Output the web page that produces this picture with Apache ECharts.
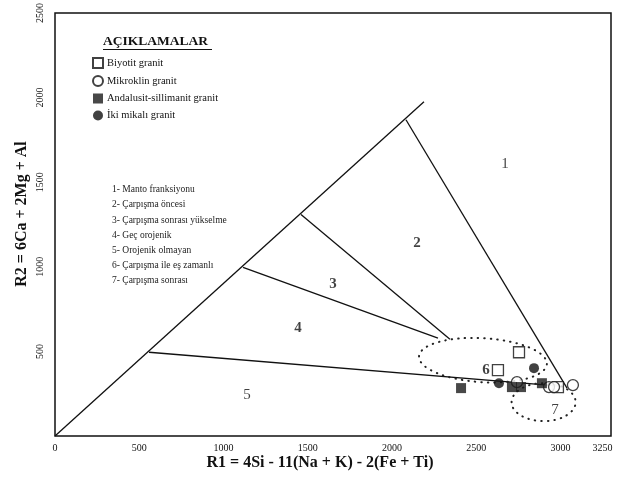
<!DOCTYPE html>
<html><head><meta charset="utf-8">
<script src="https://cdn.jsdelivr.net/npm/echarts@6/dist/echarts.min.js"></script>
<style>html,body{margin:0;padding:0;background:#fff}#c{width:633px;height:477px}</style>
</head><body><div id="c"></div>
<script>
// ---- data ----
const xTickLabels = [0, 500, 1000, 1500, 2000, 2500, 3000, 3250];
const yTickLabels = [500, 1000, 1500, 2000, 2500];
const seriesNames = ['Biyotit granit', 'Mikroklin granit', 'Andalusit-sillimanit granit', 'İki mikalı granit'];
const biyotit = [[2754, 495], [2629, 389], [2985, 289]];
const mikroklin = [[2742, 318], [2932, 289], [2962, 289], [3074, 301]];
const andalusit = [[2410, 283], [2712, 289], [2766, 289], [2890, 312]];
const ikiMikali = [[2635, 312], [2843, 401]];
const lineDiagonal = [[0, 0], [2190, 1975]];
const line12 = [[2083, 1869], [3039, 283]];
const line23 = [[1460, 1309], [2344, 572]];
const line34 = [[1116, 996], [2273, 578]];
const line45 = [[558, 495], [2997, 295]];
const fieldLabelNames = ['1', '2', '3', '4', '5', '6', '7'];
const fieldLabelX = [2671, 2148, 1650, 1442, 1140, 2558, 2968];
const fieldLabelY = [1610, 1138, 896, 637, 242, 389, 153];
const ellipse6 = [2540, 448, 380, 130];   // cx, cy, rx (R1), ry (R2)
const ellipse7 = [2900, 200, 190, 112];
const fieldNames = [
  '1- Manto franksiyonu',
  '2- Çarpışma öncesi',
  '3- Çarpışma sonrası yükselme',
  '4- Geç orojenik',
  '5- Orojenik olmayan',
  '6- Çarpışma ile eş zamanlı',
  '7- Çarpışma sonrası'
];

// ---- chart ----
const SERIF = "'Liberation Serif','Times New Roman',serif";
const boldLabels = new Set(['2', '3', '4', '6']);
const chart = echarts.init(document.getElementById('c'), null, {renderer: 'canvas'});

function lineSeries(pts) {
  return {type: 'line', data: pts, symbol: 'none', silent: true, z: 2,
    lineStyle: {color: '#111', width: 1.3}, legendHoverLink: false};
}
function ellipseSeries(e, rot) {
  return {
    type: 'custom', silent: true, z: 3,
    data: [[e[0], e[1], e[2], e[3]]],
    renderItem: function (params, api) {
      const c = api.coord([api.value(0), api.value(1)]);
      const rx = api.size([api.value(2), 0])[0];
      const ry = api.size([0, api.value(3)])[1];
      return {type: 'ellipse', x: c[0], y: c[1], rotation: rot,
        shape: {cx: 0, cy: 0, rx: rx, ry: ry},
        style: {fill: 'none', stroke: '#222', lineWidth: 2, lineDash: [0.5, 6], lineCap: 'round'}};
    }
  };
}
const labelData = fieldLabelNames.map((n, i) => ({name: n, value: [fieldLabelX[i], fieldLabelY[i]],
  label: {fontWeight: boldLabels.has(n) ? 'bold' : 'normal', fontSize: 15}}));

const option = {
  animation: false,
  backgroundColor: '#fff',
  grid: {left: 55, right: 22, top: 12, bottom: 41, show: true, borderColor: '#111', borderWidth: 1.5, backgroundColor: 'transparent'},
  xAxis: {
    type: 'value', min: 0, max: 3300, interval: 250,
    axisLine: {show: false}, axisTick: {show: false}, splitLine: {show: false},
    axisLabel: {fontFamily: SERIF, fontSize: 10, color: '#111', margin: 7, showMaxLabel: false,
      formatter: v => xTickLabels.indexOf(v) >= 0 ? String(v) : ''}
  },
  yAxis: {
    type: 'value', min: 0, max: 2500, interval: 500,
    axisLine: {show: false}, axisTick: {show: false}, splitLine: {show: false},
    axisLabel: {fontFamily: SERIF, fontSize: 10, color: '#111', rotate: 90, margin: 10,
      formatter: v => yTickLabels.indexOf(v) >= 0 ? String(v) : ''}
  },
  legend: {
    left: 87, top: 52, orient: 'vertical', itemWidth: 10, itemHeight: 10, itemGap: 6,
    textStyle: {fontFamily: SERIF, fontSize: 10.5, color: '#111', padding: [0, 0, 0, -1]},
    data: seriesNames
  },
  graphic: [
    {type: 'text', left: 103, top: 35, style: {text: 'AÇIKLAMALAR', font: 'bold 13.5px ' + SERIF, fill: '#111'}},
    {type: 'line', shape: {x1: 103, y1: 49.5, x2: 212, y2: 49.5}, style: {stroke: '#111', lineWidth: 1.2}},
    {type: 'text', left: 112, top: 182, style: {text: fieldNames.join('\n'), font: '9.5px ' + SERIF, fill: '#222', lineHeight: 15.2}},
    {type: 'text', x: 22, y: 214, rotation: Math.PI / 2,
      style: {text: 'R2 = 6Ca + 2Mg + Al', font: 'bold 16px ' + SERIF, fill: '#111', align: 'center', verticalAlign: 'middle'}},
    {type: 'text', x: 320, y: 463,
      style: {text: 'R1 = 4Si - 11(Na + K) - 2(Fe + Ti)', font: 'bold 16px ' + SERIF, fill: '#111', align: 'center', verticalAlign: 'middle'}}
  ],
  series: [
    lineSeries(lineDiagonal), lineSeries(line12), lineSeries(line23), lineSeries(line34), lineSeries(line45),
    ellipseSeries(ellipse6, -0.06), ellipseSeries(ellipse7, 0),
    {type: 'scatter', silent: true, z: 4, symbolSize: 0, data: labelData,
      label: {show: true, position: 'inside', formatter: '{b}', fontFamily: SERIF, color: '#111'}},
    {name: seriesNames[0], type: 'scatter', symbol: 'rect', symbolSize: 11, z: 5, data: biyotit,
      itemStyle: {color: '#fff', borderColor: '#111', borderWidth: 1.3}},
    {name: seriesNames[1], type: 'scatter', symbol: 'circle', symbolSize: 11, z: 5, data: mikroklin,
      itemStyle: {color: '#fff', borderColor: '#111', borderWidth: 1.3}},
    {name: seriesNames[2], type: 'scatter', symbol: 'rect', symbolSize: 10, z: 5, data: andalusit,
      itemStyle: {color: '#1a1a1a'}},
    {name: seriesNames[3], type: 'scatter', symbol: 'circle', symbolSize: 10, z: 5, data: ikiMikali,
      itemStyle: {color: '#111'}}
  ]
};
chart.setOption(option);
</script></body></html>
